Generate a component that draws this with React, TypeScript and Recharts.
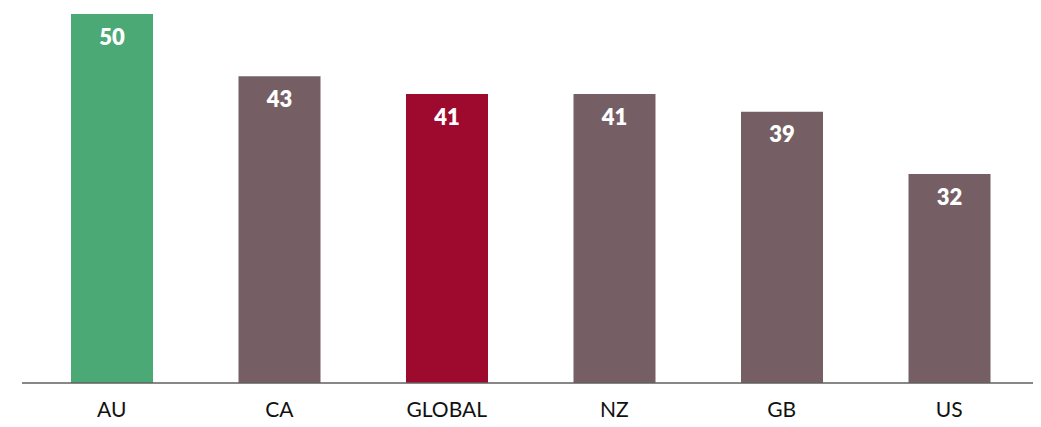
import { BarChart, Bar, XAxis, YAxis, Cell, LabelList } from "recharts";

// country codes along the x axis
const countries = ["AU", "CA", "GLOBAL", "NZ", "GB", "US"];
// score per country
const scores = [50, 43, 41, 41, 39, 32];
// bar colours: AU highlighted green, global average in crimson
const barColors = ["#4BA976", "#765F64", "#9E0A2E", "#765F64", "#765F64", "#765F64"];

const data = countries.map((country, i) => ({ country, score: scores[i] }));

export default function App() {
  return (
    <BarChart
      width={1033}
      height={419}
      data={data}
      margin={{ top: 6, right: 2, bottom: 0, left: 14 }}
    >
      <YAxis hide domain={[8.5, 50]} allowDataOverflow />
      <XAxis
        dataKey="country"
        height={44}
        padding={{ left: 6, right: 6 }}
        axisLine={{ stroke: "#5f5f5f", strokeWidth: 1.5 }}
        tickLine={false}
        tickSize={0}
        tickMargin={19}
        tick={{ fill: "#111", fontSize: 21, fontFamily: "Lato, sans-serif" }}
      />
      <Bar dataKey="score" barSize={82} isAnimationActive={false}>
        {data.map((d, i) => (
          <Cell key={d.country} fill={barColors[i]} />
        ))}
        <LabelList
          dataKey="score"
          position="insideTop"
          offset={15}
          fill="#fff"
          style={{ fontSize: 22, fontWeight: 800, fontFamily: "Lato, sans-serif" }}
        />
      </Bar>
    </BarChart>
  );
}
